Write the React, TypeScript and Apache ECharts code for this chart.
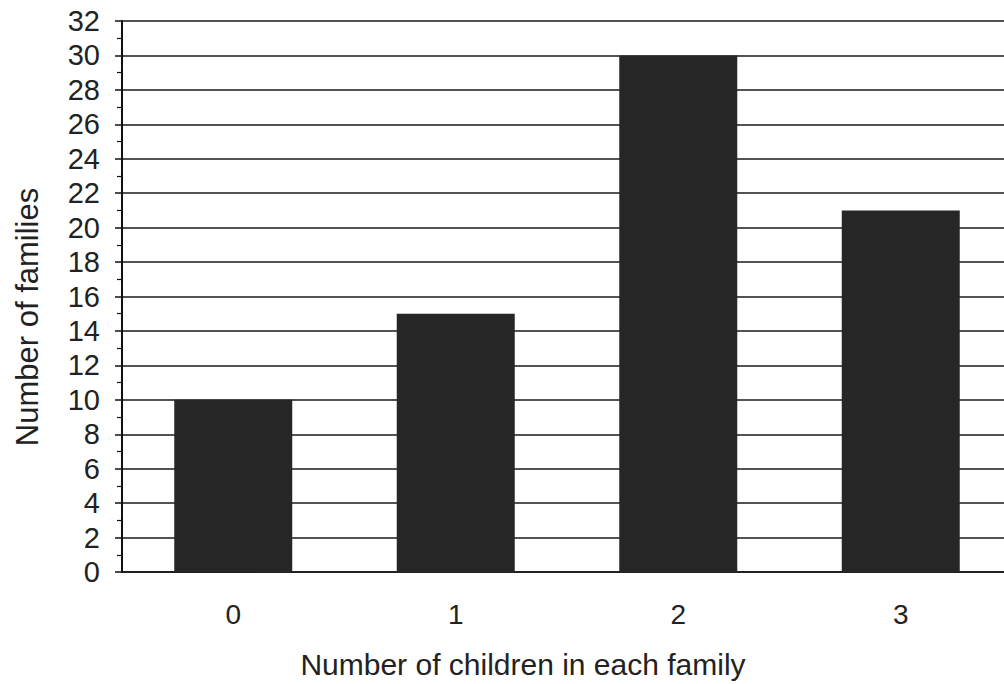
import React, { useEffect, useRef } from "react";
import * as echarts from "echarts";

const categories = ["0", "1", "2", "3"];
const families = [10, 15, 30, 21];
const yMin = 0;
const yMax = 32;
const yInterval = 2;
const xAxisTitle = "Number of children in each family";
const yAxisTitle = "Number of families";

export default function App() {
  const ref = useRef<HTMLDivElement>(null);
  useEffect(() => {
    if (!ref.current) return;
    document.body.style.margin = "0";
    document.body.style.overflow = "hidden";
    const chart = echarts.init(ref.current, null, { renderer: "svg" });
    const font = "'Liberation Sans', Arial, sans-serif";
    chart.setOption({
      animation: false,
      backgroundColor: "#ffffff",
      grid: { left: 122, top: 21, right: 0, bottom: 112, containLabel: false },
      xAxis: {
        type: "category",
        data: categories,
        axisLine: { show: true, lineStyle: { color: "#111", width: 1.5 } },
        axisTick: { show: false },
        axisLabel: { fontSize: 28, color: "#222", margin: 28, fontFamily: font },
      },
      yAxis: {
        type: "value",
        min: yMin,
        max: yMax,
        interval: yInterval,
        axisLine: { show: true, lineStyle: { color: "#111", width: 2 } },
        axisTick: { show: true, length: 7, lineStyle: { color: "#111", width: 1.5 } },
        minorTick: { show: true, splitNumber: 2, length: 5, lineStyle: { color: "#111", width: 1.2 } },
        axisLabel: { fontSize: 29, color: "#222", margin: 22, fontFamily: font },
        splitLine: { show: true, lineStyle: { color: "#1a1a1a", width: 1.6 } },
      },
      graphic: [
        {
          type: "text",
          x: 27,
          y: 317,
          rotation: Math.PI / 2,
          style: {
            text: yAxisTitle,
            fontSize: 31,
            fill: "#222",
            fontFamily: font,
            align: "center",
            verticalAlign: "middle",
          },
        },
        {
          type: "text",
          x: 523,
          y: 664,
          style: {
            text: xAxisTitle,
            fontSize: 30,
            fill: "#222",
            fontFamily: font,
            align: "center",
            verticalAlign: "middle",
          },
        },
      ],
      series: [
        {
          type: "bar",
          data: families,
          barWidth: 118,
          itemStyle: { color: "#262626" },
        },
      ],
    });
    return () => chart.dispose();
  }, []);
  return (
    <div
      ref={ref}
      style={{ position: "absolute", left: 0, top: 0, width: 1012, height: 684, background: "#fff" }}
    />
  );
}
